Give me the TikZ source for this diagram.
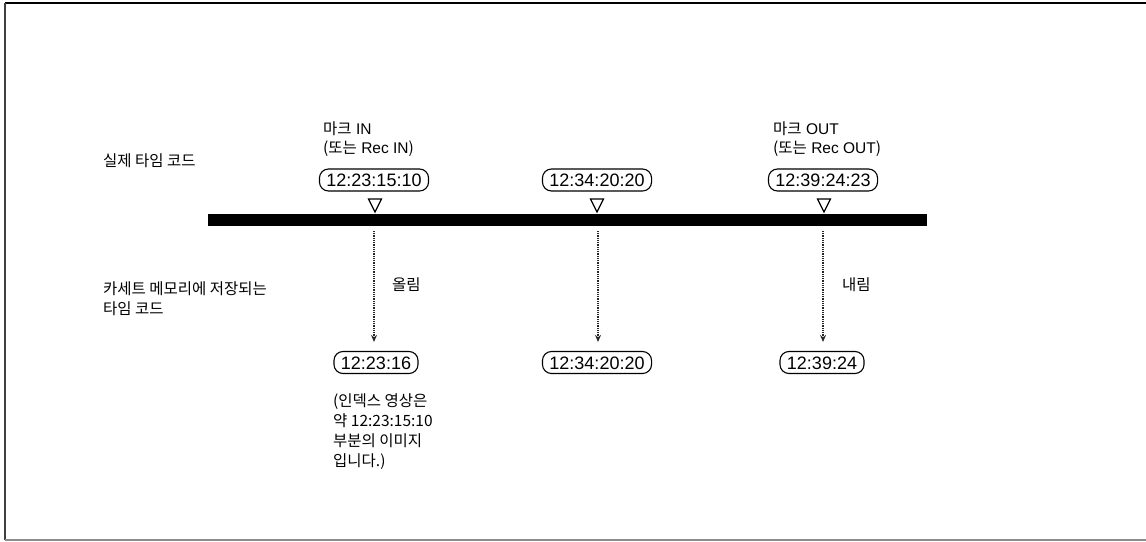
\documentclass[tikz,border=0pt]{standalone}
\usepackage{fontspec}
\setmainfont{Liberation Sans}
\newfontfamily\kr{Noto Sans CJK KR}
\usetikzlibrary{arrows.meta}
\begin{document}
\begin{tikzpicture}[x=1pt,y=-1pt,
 tc/.style={draw,line width=1.1pt,rounded corners=9pt,font=\fontsize{18}{20}\selectfont,
   text height=13pt,text depth=0pt,inner xsep=7pt,inner ysep=4.5pt},
 lbl/.style={anchor=base west,align=left,inner sep=0pt,font=\fontsize{15.5}{19}\selectfont},
 krl/.style={anchor=base west,align=left,inner sep=0pt,font=\kr\fontsize{15.5}{20}\selectfont},
 mk/.style={line width=1.2pt,line join=miter},
 arr/.style={dash pattern=on 1pt off 0.8pt,line width=1.3pt,black!85,-{Stealth[length=7pt,width=6pt]},shorten >=9pt}
]
\useasboundingbox (0,0) rectangle (1146,541);
% frame
\draw[line width=1.5pt] (1146,3) -- (5,3);
\draw[line width=2pt,black!75] (5,3) -- (5,540);
\draw[line width=1.5pt,black!45] (5,540) -- (1146,540);

% left labels
\node[krl] (lr) at (103,166) {실제 타임 코드};
\node[krl] (lc) at (103,314) {카세트 메모리에 저장되는\\타임 코드};

% top labels
\node[lbl] (mi) at (323,153) {{\kr 마크} IN\\{\kr (또는} Rec IN{\kr )}};
\node[lbl] (mo) at (773,153) {{\kr 마크} OUT\\{\kr (또는} Rec OUT{\kr )}};

% bar
\fill (208,214) rectangle (927,226);

% upper time codes
\node[tc] (t1) at (374,180) {12:23:15:10};
\node[tc] (t2) at (597,180) {12:34:20:20};
\node[tc] (t3) at (823,180) {12:39:24:23};

% marks
\foreach \x in {375,597,824}{
  \draw[mk] (\x-6.5,199) -- (\x+6.5,199) -- (\x,212) -- cycle;
}

% arrow starts
\coordinate (s1) at (374,231);
\coordinate (s2) at (598,231);
\coordinate (s3) at (823,231);

% lower time codes
\node[tc] (b1) at (376,362.5) {12:23:16};
\node[tc] (b2) at (597,362.5) {12:34:20:20};
\node[tc] (b3) at (822,362.5) {12:39:24};

\draw[arr] (s1) -- (s1 |- b1.north);
\draw[arr] (s2) -- (s2 |- b2.north);
\draw[arr] (s3) -- (s3 |- b3.north);

% arrow labels
\node[krl] (up) at (392,290) {올림};
\node[krl] (dn) at (842,290) {내림};

% note
\node[krl] (note) at (333,466) {(인덱스 영상은\\약 12:23:15:10\\부분의 이미지\\입니다.)};
\end{tikzpicture}
\end{document}
